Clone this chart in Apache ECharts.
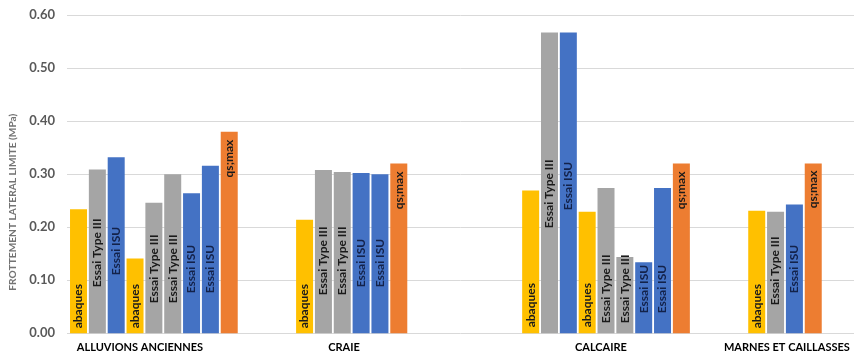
<!DOCTYPE html>
<html><head><meta charset="utf-8">
<script src="https://cdn.jsdelivr.net/npm/echarts@6/dist/echarts.min.js"></script>
<style>html,body{margin:0;padding:0;background:#fff}#c{width:854px;height:357px}</style>
</head><body><div id="c"></div>
<script>
// ---- data ----
const groupNames = ['ALLUVIONS ANCIENNES', 'CRAIE', 'CALCAIRE', 'MARNES ET CAILLASSES'];
const seriesNames = ['abaques', 'Essai Type III', 'Essai ISU', 'qs;max'];

const alluvionsTypes  = ['abaques','Essai Type III','Essai ISU','abaques','Essai Type III','Essai Type III','Essai ISU','Essai ISU','qs;max'];
const alluvionsValues = [0.234, 0.309, 0.332, 0.141, 0.246, 0.300, 0.264, 0.316, 0.380];

const craieTypes  = ['abaques','Essai Type III','Essai Type III','Essai ISU','Essai ISU','qs;max'];
const craieValues = [0.214, 0.308, 0.304, 0.302, 0.300, 0.320];

const calcaireTypes  = ['abaques','Essai Type III','Essai ISU','abaques','Essai Type III','Essai Type III','Essai ISU','Essai ISU','qs;max'];
const calcaireValues = [0.269, 0.567, 0.567, 0.229, 0.274, 0.144, 0.134, 0.274, 0.320];

const marnesTypes  = ['abaques','Essai Type III','Essai ISU','qs;max'];
const marnesValues = [0.231, 0.229, 0.243, 0.320];

const yTickLabels = ['0.00','0.10','0.20','0.30','0.40','0.50','0.60'];
const yTitle = 'FROTTEMENT LATERAL LIMITE (MPa)';

// ---- layout / style (not data) ----
const gapSlots = [3, 6, 3, 1];                    // empty category slots after each group
const groupLabelPos = [3.76, 14.59, 28.23, 38.1]; // group label centers in slot units
const labelLift = [                               // label distance from bar base (from top for qs;max)
  [5, 46, 58, 5, 30, 30, 40, 40, 8],
  [5, 38, 38, 46, 46, 8],
  [6, 105, 123, 6, 10, 10, 20, 20, 8],
  [5, 28, 40, 7]
];
const colors = {'abaques':'#FFC000','Essai Type III':'#A5A5A5','Essai ISU':'#4472C4','qs;max':'#ED7D31'};
const textColors = {'abaques':'#1a1a1a','Essai Type III':'#1a1a1a','Essai ISU':'#13224a','qs;max':'#1a1a1a'};
const FONT = 'Lato';

const groups = [
  {types: alluvionsTypes, values: alluvionsValues},
  {types: craieTypes, values: craieValues},
  {types: calcaireTypes, values: calcaireValues},
  {types: marnesTypes, values: marnesValues}
];

const categories = [];
const slots = [];
groups.forEach((g, gi) => {
  g.types.forEach((t, i) => {
    categories.push(groupNames[gi] + ' #' + (i + 1));
    slots.push({type: t, value: g.values[i], lift: labelLift[gi][i]});
  });
  for (let k = 0; k < gapSlots[gi]; k++) {
    categories.push('gap ' + gi + '-' + k);
    slots.push(null);
  }
});
const nSlots = categories.length;

const series = seriesNames.map(name => ({
  name: name,
  type: 'bar',
  xAxisIndex: 1,
  yAxisIndex: 1,
  barWidth: 17,
  barGap: '-100%',
  itemStyle: {color: colors[name]},
  label: {
    show: true,
    formatter: '{a}',
    rotate: 90,
    position: name === 'qs;max' ? 'insideTop' : 'insideBottom',
    align: name === 'qs;max' ? 'right' : 'left',
    verticalAlign: 'middle',
    color: textColors[name],
    fontFamily: FONT,
    fontWeight: 'bold',
    fontSize: 12
  },
  data: slots.map(s => (s && s.type === name)
    ? {value: s.value, label: {distance: s.lift}}
    : null)
}));

const chart = echarts.init(document.getElementById('c'), null, {renderer: 'canvas'});
chart.setOption({
  animation: false,
  backgroundColor: '#ffffff',
  grid: [
    {left: 59, right: 0, top: 15, bottom: 23.7},
    {left: 69.1, width: 772.4, top: 15, bottom: 23.7}
  ],
  xAxis: [
    {gridIndex: 0, type: 'value', min: 0, max: 1, show: false},
    {gridIndex: 1, type: 'category', data: categories, position: 'bottom',
     axisLine: {show: false}, axisTick: {show: false}, axisLabel: {show: false}, splitLine: {show: false}},
    {gridIndex: 1, type: 'value', min: 0, max: nSlots, position: 'bottom',
     axisLine: {show: false}, axisTick: {show: false}, splitLine: {show: false},
     axisLabel: {
       customValues: groupLabelPos,
       formatter: v => {
         const i = groupLabelPos.findIndex(p => Math.abs(p - v) < 1e-6);
         return i >= 0 ? groupNames[i] : '';
       },
       margin: 9, color: '#000000', fontFamily: FONT, fontWeight: 'bold', fontSize: 11
     }}
  ],
  yAxis: [
    {gridIndex: 0, type: 'value', min: 0, max: 0.6, interval: 0.1,
     axisLine: {show: false}, axisTick: {show: false},
     splitLine: {lineStyle: {color: '#d9d9d9', width: 1}},
     axisLabel: {formatter: (v) => yTickLabels[Math.round(v * 10)], margin: 12,
                 color: '#595959', fontFamily: FONT, fontWeight: 'bold', fontSize: 13},
     name: yTitle, nameLocation: 'middle', nameGap: 49,
     nameTextStyle: {color: '#737373', fontFamily: FONT, fontWeight: 'bold', fontSize: 10.2, padding: [0, 56, 0, 0]}},
    {gridIndex: 1, type: 'value', min: 0, max: 0.6, interval: 0.1, show: false}
  ],
  series: series
});
</script></body></html>
